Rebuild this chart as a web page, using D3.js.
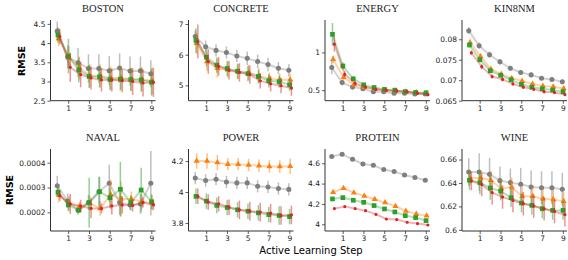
<!DOCTYPE html>
<html>
<head>
<meta charset="utf-8">
<script src="https://cdn.jsdelivr.net/npm/d3@7"></script>
<style>
  body { margin: 0; background: #fff; }
  svg { display: block; }
</style>
</head>
<body>
<svg width="568" height="260"></svg>
<script>
// data (series order: gray, orange, green, red)
const steps = [0, 1, 2, 3, 4, 5, 6, 7, 8, 9];
const datasets = ["BOSTON", "CONCRETE", "ENERGY", "KIN8NM", "NAVAL", "POWER", "PROTEIN", "WINE"];

const bostonMean = [
  [4.31, 3.64, 3.49, 3.34, 3.34, 3.28, 3.35, 3.27, 3.28, 3.2],
  [4.12, 3.62, 3.35, 3.15, 3.15, 3.09, 3.09, 3.06, 3.06, 3.01],
  [4.21, 3.66, 3.30, 3.13, 3.12, 3.05, 3.06, 3.05, 3.04, 2.98],
  [4.17, 3.37, 3.18, 3.09, 3.04, 3.04, 3.02, 3.0, 2.96, 2.98]];
const bostonErr = [
  [0.25, 0.3, 0.38, 0.37, 0.37, 0.38, 0.38, 0.38, 0.37, 0.35],
  [0.2, 0.3, 0.3, 0.3, 0.3, 0.3, 0.3, 0.3, 0.32, 0.35],
  [0.2, 0.45, 0.32, 0.3, 0.28, 0.28, 0.3, 0.3, 0.3, 0.35],
  [0.2, 0.38, 0.33, 0.3, 0.3, 0.3, 0.3, 0.35, 0.35, 0.38]];

const concreteMean = [
  [6.59, 6.26, 6.14, 6.07, 5.96, 5.88, 5.78, 5.68, 5.56, 5.49],
  [6.37, 5.78, 5.56, 5.51, 5.45, 5.42, 5.31, 5.22, 5.18, 5.18],
  [6.46, 5.92, 5.66, 5.55, 5.46, 5.38, 5.29, 5.15, 5.12, 5.02],
  [6.43, 5.78, 5.62, 5.49, 5.42, 5.35, 5.15, 5.05, 4.99, 4.91]];
const concreteErr = [
  [0.2, 0.2, 0.2, 0.2, 0.2, 0.22, 0.22, 0.22, 0.2, 0.2],
  [0.35, 0.3, 0.3, 0.25, 0.25, 0.25, 0.25, 0.2, 0.2, 0.2],
  [0.4, 0.3, 0.25, 0.25, 0.25, 0.25, 0.22, 0.22, 0.2, 0.2],
  [0.55, 0.4, 0.3, 0.3, 0.3, 0.3, 0.25, 0.25, 0.25, 0.25]];

const energyMean = [
  [0.80, 0.60, 0.54, 0.52, 0.48, 0.48, 0.46, 0.46, 0.45, 0.45],
  [0.91, 0.67, 0.57, 0.54, 0.52, 0.50, 0.49, 0.48, 0.465, 0.46],
  [1.24, 0.82, 0.65, 0.57, 0.535, 0.51, 0.50, 0.48, 0.47, 0.465],
  [1.11, 0.71, 0.59, 0.54, 0.51, 0.50, 0.49, 0.48, 0.46, 0.44]];
const energyErr = [
  [0.09, 0.04, 0.03, 0.03, 0.03, 0.02, 0.02, 0.02, 0.02, 0.02],
  [0.05, 0.04, 0.03, 0.03, 0.03, 0.03, 0.02, 0.03, 0.02, 0.02],
  [0.15, 0.05, 0.03, 0.03, 0.02, 0.02, 0.02, 0.02, 0.02, 0.02],
  [0.1, 0.04, 0.03, 0.02, 0.02, 0.02, 0.02, 0.02, 0.02, 0.02]];

const kin8nmMean = [
  [0.0821, 0.0784, 0.0762, 0.0745, 0.0729, 0.0719, 0.0713, 0.0705, 0.0702, 0.0696],
  [0.0792, 0.0758, 0.0727, 0.0715, 0.0705, 0.0698, 0.0691, 0.0686, 0.0684, 0.0680],
  [0.0786, 0.0750, 0.0723, 0.0712, 0.0701, 0.0690, 0.0683, 0.0679, 0.0676, 0.0672],
  [0.0767, 0.0733, 0.0709, 0.0702, 0.0691, 0.0683, 0.0678, 0.0672, 0.0670, 0.0665]];
const kin8nmErr = [
  [0.0009, 0.0008, 0.0008, 0.0007, 0.0006, 0.0005, 0.0005, 0.0005, 0.0006, 0.0005],
  [0.0007, 0.0007, 0.0006, 0.0005, 0.0005, 0.0005, 0.0005, 0.0004, 0.0005, 0.0005],
  [0.0006, 0.0006, 0.0005, 0.0005, 0.0005, 0.0004, 0.0004, 0.0004, 0.0004, 0.0004],
  [0.0006, 0.0006, 0.0005, 0.0005, 0.0004, 0.0004, 0.0004, 0.0004, 0.0004, 0.0004]];

const navalMean = [
  [0.000307, 0.000246, 0.000209, 0.000240, 0.000283, 0.000317, 0.000240, 0.000230, 0.000234, 0.000317],
  [0.000270, 0.000236, 0.000223, 0.000236, 0.000216, 0.000272, 0.000254, 0.000254, 0.000243, 0.000239],
  [0.000281, 0.000230, 0.000209, 0.000239, 0.000283, 0.000259, 0.000293, 0.000239, 0.000290, 0.000243],
  [0.000267, 0.000234, 0.000226, 0.000216, 0.000216, 0.000226, 0.000230, 0.000228, 0.000240, 0.000230]];
const navalErr = [
  [0.00004, 0.00003, 0.00002, 0.00003, 0.00006, 0.000075, 0.00005, 0.00002, 0.00004, 0.00013],
  [0.00003, 0.00003, 0.00002, 0.00003, 0.00003, 0.00006, 0.00007, 0.00003, 0.00003, 0.00003],
  [0.00002, 0.000025, 0.00001, 0.0001, 0.00006, 0.00004, 0.00011, 0.00003, 0.00009, 0.00003],
  [0.00002, 0.00004, 0.000025, 0.00004, 0.00002, 0.000035, 0.000035, 0.000025, 0.00002, 0.00002]];

const powerMean = [
  [4.090, 4.074, 4.083, 4.065, 4.059, 4.059, 4.037, 4.033, 4.022, 4.017],
  [4.200, 4.200, 4.190, 4.180, 4.180, 4.175, 4.170, 4.165, 4.165, 4.167],
  [3.972, 3.941, 3.913, 3.900, 3.885, 3.876, 3.865, 3.854, 3.848, 3.841],
  [3.972, 3.935, 3.924, 3.902, 3.885, 3.876, 3.870, 3.863, 3.848, 3.852]];
const powerErr = [
  [0.04, 0.04, 0.04, 0.04, 0.04, 0.04, 0.04, 0.04, 0.04, 0.04],
  [0.05, 0.05, 0.05, 0.04, 0.04, 0.04, 0.04, 0.04, 0.04, 0.05],
  [0.05, 0.05, 0.05, 0.05, 0.05, 0.05, 0.05, 0.05, 0.06, 0.05],
  [0.05, 0.05, 0.05, 0.05, 0.06, 0.06, 0.06, 0.06, 0.06, 0.06]];

const proteinMean = [
  [4.666, 4.689, 4.639, 4.593, 4.580, 4.538, 4.518, 4.485, 4.459, 4.433],
  [4.315, 4.354, 4.311, 4.279, 4.246, 4.213, 4.177, 4.131, 4.100, 4.085],
  [4.249, 4.262, 4.236, 4.216, 4.184, 4.151, 4.121, 4.085, 4.066, 4.036],
  [4.154, 4.174, 4.154, 4.134, 4.098, 4.052, 4.046, 4.020, 4.007, 3.993]];
const proteinErr = [
  [0.008, 0.008, 0.008, 0.008, 0.008, 0.008, 0.008, 0.008, 0.008, 0.008],
  [0.01, 0.01, 0.01, 0.01, 0.01, 0.01, 0.01, 0.01, 0.01, 0.01],
  [0.01, 0.01, 0.01, 0.01, 0.01, 0.01, 0.01, 0.01, 0.01, 0.01],
  [0.008, 0.008, 0.008, 0.008, 0.008, 0.008, 0.008, 0.008, 0.008, 0.008]];

const wineMean = [
  [0.6494, 0.6494, 0.6474, 0.6420, 0.6403, 0.6389, 0.6366, 0.6360, 0.6360, 0.6346],
  [0.6443, 0.6443, 0.6423, 0.6351, 0.6366, 0.6286, 0.6286, 0.6266, 0.6260, 0.6243],
  [0.6423, 0.6403, 0.6357, 0.6331, 0.6274, 0.6229, 0.6209, 0.6180, 0.6166, 0.6166],
  [0.6417, 0.6386, 0.6317, 0.6280, 0.6251, 0.6223, 0.6203, 0.6180, 0.6157, 0.6129]];
const wineErr = [
  [0.012, 0.016, 0.014, 0.012, 0.012, 0.014, 0.014, 0.014, 0.014, 0.014],
  [0.006, 0.006, 0.008, 0.008, 0.008, 0.008, 0.008, 0.008, 0.008, 0.008],
  [0.008, 0.01, 0.01, 0.008, 0.008, 0.008, 0.008, 0.008, 0.008, 0.008],
  [0.008, 0.01, 0.01, 0.01, 0.01, 0.01, 0.01, 0.01, 0.01, 0.01]];

const xTicks = [1, 3, 5, 7, 9];
const yTicks = [
  [2.5, 3, 3.5, 4, 4.5],
  [5, 6, 7],
  [0.5, 1],
  [0.065, 0.07, 0.075, 0.08],
  [0.0002, 0.0003, 0.0004],
  [3.8, 4, 4.2],
  [4, 4.2, 4.4, 4.6],
  [0.6, 0.62, 0.64, 0.66]];

const means = [bostonMean, concreteMean, energyMean, kin8nmMean, navalMean, powerMean, proteinMean, wineMean];
const errs = [bostonErr, concreteErr, energyErr, kin8nmErr, navalErr, powerErr, proteinErr, wineErr];

// layout
const yDomains = [[2.5, 4.6], [4.5, 7.13], [0.36, 1.43], [0.065, 0.0847],
                  [0.000125, 0.000455], [3.748, 4.278], [3.934, 4.74], [0.599, 0.669]];
const lefts = [50.5, 188.5, 325, 462];
const rows = [[20, 100.7], [149, 231]];
const panelW = 105;
const colors = ["#7f7f7f", "#ff7f0e", "#2ca02c", "#d62728"];
const dodge = [-0.05, 0.08, 0.02, 0.2];

const svg = d3.select("svg");

datasets.forEach(function(name, i) {
  const left = lefts[i % 4];
  const [top, bottom] = rows[Math.floor(i / 4)];
  const x = d3.scaleLinear().domain([-0.7, 9.4]).range([left, left + panelW]);
  const y = d3.scaleLinear().domain(yDomains[i]).range([bottom, top]);
  const g = svg.append("g");

  // axes
  const xAxis = g.append("g")
    .attr("transform", `translate(0,${bottom})`)
    .call(d3.axisBottom(x).tickValues(xTicks).tickSize(3).tickPadding(2).tickFormat(d3.format("d")));
  const yAxis = g.append("g")
    .attr("transform", `translate(${left},0)`)
    .call(d3.axisLeft(y).tickValues(yTicks[i]).tickSize(3).tickPadding(2).tickFormat(d => String(+d.toPrecision(6))));
  [xAxis, yAxis].forEach(function(a) {
    a.select(".domain").attr("stroke", "#333").attr("stroke-width", 1)
      .attr("d", a === xAxis ? `M${left},0H${left + panelW}` : `M0,${bottom}V${top}`);
    a.selectAll(".tick line").attr("stroke", "#333").attr("stroke-width", 0.8);
    a.selectAll(".tick text").attr("fill", "#222")
      .style("font-family", "DejaVu Sans").style("font-size", "7.5px");
  });

  // title
  g.append("text")
    .attr("x", left + panelW / 2)
    .attr("y", top - 8)
    .attr("text-anchor", "middle")
    .style("font-family", "Liberation Serif")
    .style("font-size", "10.5px")
    .attr("fill", "#222")
    .text(name);

  means[i].forEach(function(series, s) {
    const pts = steps.map((st, k) => ({ x: st + dodge[s], m: series[k], e: errs[i][s][k] }));

    g.append("path")
      .datum(pts)
      .attr("fill", "none")
      .attr("stroke", colors[s])
      .attr("stroke-opacity", 0.35)
      .attr("stroke-width", 2)
      .attr("d", d3.line().x(d => x(d.x)).y(d => y(d.m)));

    g.append("g").selectAll("line")
      .data(pts)
      .join("line")
      .attr("x1", d => x(d.x)).attr("x2", d => x(d.x))
      .attr("y1", d => y(d.m - d.e)).attr("y2", d => y(d.m + d.e))
      .attr("stroke", colors[s])
      .attr("stroke-opacity", 0.5)
      .attr("stroke-width", 1.5);

    const sym = [d3.symbolCircle, d3.symbolTriangle, d3.symbolSquare, d3.symbolCircle][s];
    const size = [20, 16, 22, 8][s];
    g.append("g").selectAll("path")
      .data(pts)
      .join("path")
      .attr("transform", d => `translate(${x(d.x)},${y(d.m)})`)
      .attr("d", d3.symbol().type(sym).size(size))
      .attr("fill", colors[s]);
  });
});

// shared labels
svg.append("text")
  .attr("transform", "translate(25,61) rotate(-90)")
  .attr("text-anchor", "middle")
  .style("font-family", "DejaVu Sans")
  .style("font-weight", "bold")
  .style("font-size", "9.5px")
  .text("RMSE");
svg.append("text")
  .attr("transform", "translate(13,190) rotate(-90)")
  .attr("text-anchor", "middle")
  .style("font-family", "DejaVu Sans")
  .style("font-weight", "bold")
  .style("font-size", "9.5px")
  .text("RMSE");
svg.append("text")
  .attr("x", 311)
  .attr("y", 254)
  .attr("text-anchor", "middle")
  .style("font-family", "DejaVu Sans")
  .style("font-size", "10px")
  .text("Active Learning Step");
</script>
</body>
</html>
